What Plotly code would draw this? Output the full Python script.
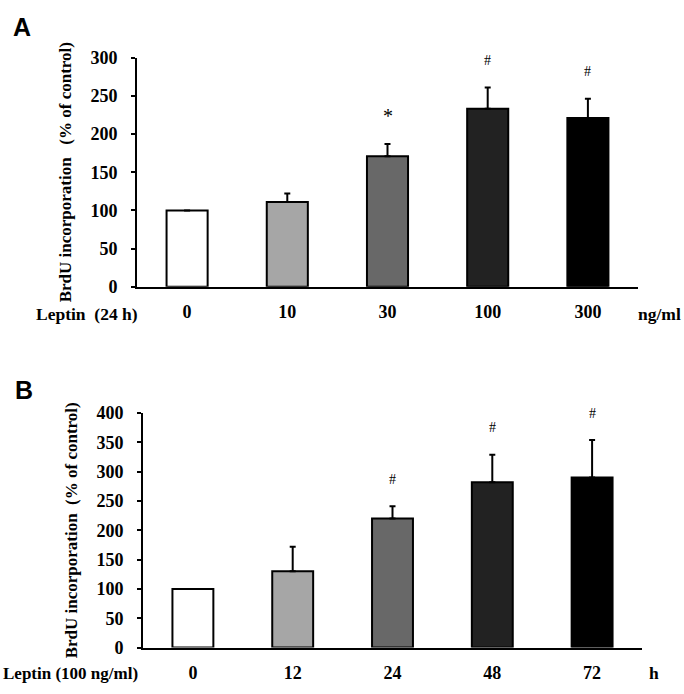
import plotly.graph_objects as go

# ---- data ----
cats_a = ["0", "10", "30", "100", "300"]
vals_a = [100, 111, 171, 233, 221]
errs_a = [0, 11, 16, 28, 25]
sig_a = ["", "", "*", "#", "#"]

cats_b = ["0", "12", "24", "48", "72"]
vals_b = [100, 130, 220, 282, 290]
errs_b = [0, 42, 21, 47, 64]
sig_b = ["", "", "#", "#", "#"]

colors = ["#ffffff", "#a6a6a6", "#686868", "#222222", "#000000"]

W, H = 684, 694
SERIF = "Liberation Serif"
SANS = "Liberation Sans"

def px(x):  # reference-image x pixel -> paper fraction
    return x / W

def py(y):  # reference-image y pixel -> paper fraction
    return 1 - y / H

fig = go.Figure()

def add_panel(cats, vals, errs, xa, ya):
    fig.add_trace(go.Bar(
        x=cats, y=vals, xaxis=xa, yaxis=ya,
        width=0.41,
        marker=dict(color=colors, line=dict(color="#000000", width=2)),
        error_y=dict(type="data", array=errs, arrayminus=[0]*len(errs),
                     symmetric=False, color="#000000", thickness=2, width=3,
                     visible=True),
        showlegend=False, hoverinfo="x+y",
    ))

add_panel(cats_a, vals_a, errs_a, "x", "y")
add_panel(cats_b, vals_b, errs_b, "x2", "y2")

FS = 18
tickfont = dict(family=SERIF, size=FS, color="#000000", weight="bold")
titlefont = dict(family=SERIF, size=17, color="#000000", weight="bold")
axis_common = dict(showline=True, linecolor="#000000", linewidth=2,
                   showgrid=False, zeroline=False, tickfont=tickfont)

fig.update_layout(
    width=W, height=H,
    margin=dict(l=0, r=0, t=0, b=0),
    paper_bgcolor="white", plot_bgcolor="white",
    font=dict(family=SERIF, color="#000000"),
    xaxis=dict(domain=[px(137), px(638)], anchor="y", ticks="", type="category",
               range=[-0.5, 4.5], ticklabelstandoff=8, **axis_common),
    yaxis=dict(domain=[py(285), py(49)], anchor="x", range=[0, 300],
               dtick=50, ticks="outside", ticklen=4, tickwidth=2,
               tickcolor="#000000", ticklabelstandoff=10,
               title=dict(text="BrdU incorporation&nbsp;&nbsp;&nbsp;(% of control)",
                          font=titlefont, standoff=14),
               **axis_common),
    xaxis2=dict(domain=[px(143), px(642)], anchor="y2", ticks="", type="category",
                range=[-0.5, 4.5], ticklabelstandoff=8, **axis_common),
    yaxis2=dict(domain=[py(656.5), py(415)], anchor="x2", range=[0, 400],
                dtick=50, ticks="outside", ticklen=4, tickwidth=2,
                tickcolor="#000000", ticklabelstandoff=10,
                title=dict(text="BrdU incorporation&nbsp;&nbsp;(% of control)",
                           font=titlefont, standoff=14),
                **axis_common),
)

ann = []
# significance markers (x given as category index)
for i, (v, e, s) in enumerate(zip(vals_a, errs_a, sig_a)):
    if s:
        ann.append(dict(x=i, y=v+e, xref="x", yref="y", text=s, showarrow=False,
                        yanchor="middle", yshift=28 if s == "*" else 27,
                        font=dict(family=SERIF, size=20 if s == "*" else 14, color="#000000")))
for i, (v, e, s) in enumerate(zip(vals_b, errs_b, sig_b)):
    if s:
        ann.append(dict(x=i, y=v+e, xref="x2", yref="y2", text=s, showarrow=False,
                        yanchor="middle", yshift=27,
                        font=dict(family=SERIF, size=14, color="#000000")))

txtfont = dict(family=SERIF, size=17.5, color="#000000")
ann += [
    dict(x=px(11), y=py(17), xref="paper", yref="paper", text="<b>A</b>",
         showarrow=False, xanchor="left", yanchor="middle",
         font=dict(family=SANS, size=25, color="#000000")),
    dict(x=px(13), y=py(391), xref="paper", yref="paper", text="<b>B</b>",
         showarrow=False, xanchor="left", yanchor="middle",
         font=dict(family=SANS, size=25, color="#000000")),
    dict(x=px(140), y=py(313), xref="paper", yref="paper", text="<b>Leptin&nbsp;&nbsp;(24 h)</b>",
         showarrow=False, xanchor="right", yanchor="middle", font=txtfont),
    dict(x=px(683), y=py(313), xref="paper", yref="paper", text="<b>ng/ml</b>",
         showarrow=False, xanchor="right", yanchor="middle", font=txtfont),
    dict(x=px(140), y=py(683), xref="paper", yref="paper", text="<b>Leptin (100 ng/ml)</b>",
         showarrow=False, xanchor="right", yanchor="middle",
         font=dict(family=SERIF, size=17, color="#000000")),
    dict(x=px(654), y=py(683), xref="paper", yref="paper", text="<b>h</b>",
         showarrow=False, xanchor="center", yanchor="middle", font=txtfont),
]
fig.update_layout(annotations=ann)

# remove the default 8px page margin so the 684x694 figure fills the window exactly
fig.write_html(
    "out.html",
    config={"displayModeBar": False},
    post_script="document.body.style.margin='0';document.body.style.overflow='hidden';",
)
